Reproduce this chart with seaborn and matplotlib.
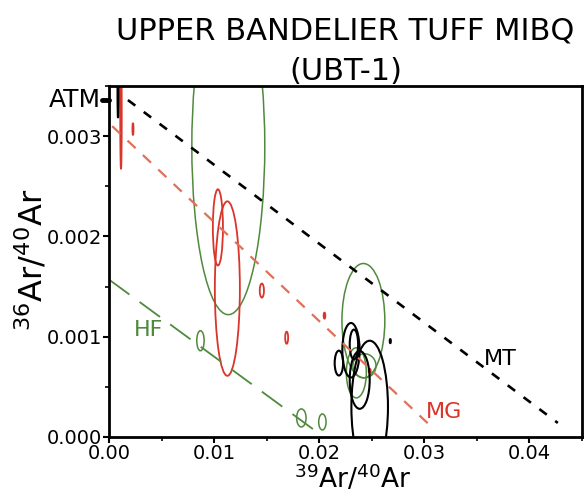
import numpy as np
import pandas as pd
import seaborn as sns
import matplotlib
matplotlib.use("Agg")
import matplotlib.pyplot as plt
from matplotlib.patches import Ellipse
from matplotlib.ticker import MultipleLocator, FormatStrFormatter

# isochron lines (39Ar/40Ar, 36Ar/40Ar end points)
mt_x = [0.0018, 0.0427]
mt_y = [0.00336, 0.00014]
mg_x = [0.0003, 0.0307]
mg_y = [0.00310, 0.00010]
hf_x = [0.0000, 0.0203]
hf_y = [0.00157, 0.00001]

# error ellipses: centre x, centre y, half width, half height
green_x = [0.01135, 0.0242, 0.0087, 0.0183, 0.0203, 0.02353, 0.0243]
green_y = [0.00290, 0.00116, 0.00096, 0.00019, 0.00015, 0.00064, 0.00071]
green_a = [0.00347, 0.00204, 0.00035, 0.00045, 0.00035, 0.00095, 0.00110]
green_b = [0.00168, 0.00057, 0.00010, 0.00009, 0.00008, 0.00025, 0.00012]

red_x = [0.01036, 0.01126, 0.01454, 0.0169, 0.00114, 0.00228, 0.0205, 0.0248]
red_y = [0.00209, 0.00148, 0.00146, 0.00099, 0.00320, 0.00307, 0.00121, 0.00066]
red_a = [0.00048, 0.00119, 0.00020, 0.00014, 0.00007, 0.00005, 0.00008, 0.00010]
red_b = [0.00038, 0.00087, 0.00007, 0.00006, 0.00053, 0.00006, 0.00003, 0.00002]

black_x = [0.02302, 0.02187, 0.0233, 0.02385, 0.0248, 0.00086, 0.02676]
black_y = [0.000865, 0.000737, 0.000923, 0.000569, 0.00030, 0.00350, 0.000956]
black_a = [0.00082, 0.00040, 0.00040, 0.00095, 0.00174, 0.00005, 0.00005]
black_b = [0.000272, 0.000124, 0.000148, 0.000288, 0.00066, 0.00032, 0.00002]

atm = 0.00336

GREEN = "#4f8a3c"
RED = "#d9352b"
MGLINE = "#e0705a"

sns.set_style("ticks")
plt.rcParams['font.family'] = ['DejaVu Sans']
plt.rcParams['mathtext.fontset'] = 'dejavusans'
plt.rcParams['text.color'] = 'black'
plt.rcParams['axes.labelcolor'] = 'black'
plt.rcParams['xtick.color'] = 'black'
plt.rcParams['ytick.color'] = 'black'

fig = plt.figure(figsize=(5.87, 4.94), dpi=100)
ax = fig.add_axes([0.1857, 0.1154, 0.8058, 0.7105])

sns.lineplot(x=mt_x, y=mt_y, color="black", lw=1.9, linestyle=(0, (3.5, 4)), ax=ax)
sns.lineplot(x=mg_x, y=mg_y, color=MGLINE, lw=1.6, linestyle=(0, (5, 4.5)), ax=ax)
sns.lineplot(x=hf_x, y=hf_y, color=GREEN, lw=1.3, linestyle=(0, (14, 7)), ax=ax)


def draw(xs, ys, aa, bb, color, lw):
    for x, y, a, b in zip(xs, ys, aa, bb):
        ax.add_patch(Ellipse((x, y), 2 * a, 2 * b, fill=False, edgecolor=color, lw=lw))


draw(green_x, green_y, green_a, green_b, GREEN, 1.1)
draw(red_x, red_y, red_a, red_b, RED, 1.3)
draw(black_x, black_y, black_a, black_b, "black", 1.5)

ax.text(0.03725, 0.00078, "MT", color="black", fontsize=16, ha="center", va="center")
ax.text(0.0319, 0.00025, "MG", color=RED, fontsize=16, ha="center", va="center")
ax.text(0.0038, 0.00107, "HF", color=GREEN, fontsize=16, ha="center", va="center")

# atmospheric ratio marker
ax.plot([-0.0007, 0.0], [atm, atm], color="black", lw=3.5, clip_on=False)
ax.text(-0.0008, atm, "ATM", fontsize=18, ha="right", va="center")

ax.set_xlim(0, 0.045)
ax.set_ylim(0, 0.0035)
ax.xaxis.set_major_locator(MultipleLocator(0.01))
ax.xaxis.set_minor_locator(MultipleLocator(0.005))
ax.yaxis.set_major_locator(MultipleLocator(0.001))
ax.yaxis.set_minor_locator(MultipleLocator(0.0005))
ax.xaxis.set_major_formatter(FormatStrFormatter("%.2f"))
ax.yaxis.set_major_formatter(FormatStrFormatter("%.3f"))
ax.tick_params(which="major", direction="out", length=4, width=1.5, labelsize=14, pad=1)
ax.tick_params(which="minor", direction="out", length=3, width=1.2)
for s in ax.spines.values():
    s.set_linewidth(2.0)
    s.set_color("black")

ax.set_xlabel(r"$^{39}$Ar/$^{40}$Ar", fontsize=19)
ax.set_ylabel(r"$^{36}$Ar/$^{40}$Ar", fontsize=23)
ax.xaxis.set_label_coords(0.516, -0.075)
ax.yaxis.set_label_coords(-0.125, 0.505)
ax.set_title("UPPER BANDELIER TUFF MIBQ\n(UBT-1)", fontsize=22, pad=2, linespacing=1.5)

fig.savefig("out.png", dpi=100)
